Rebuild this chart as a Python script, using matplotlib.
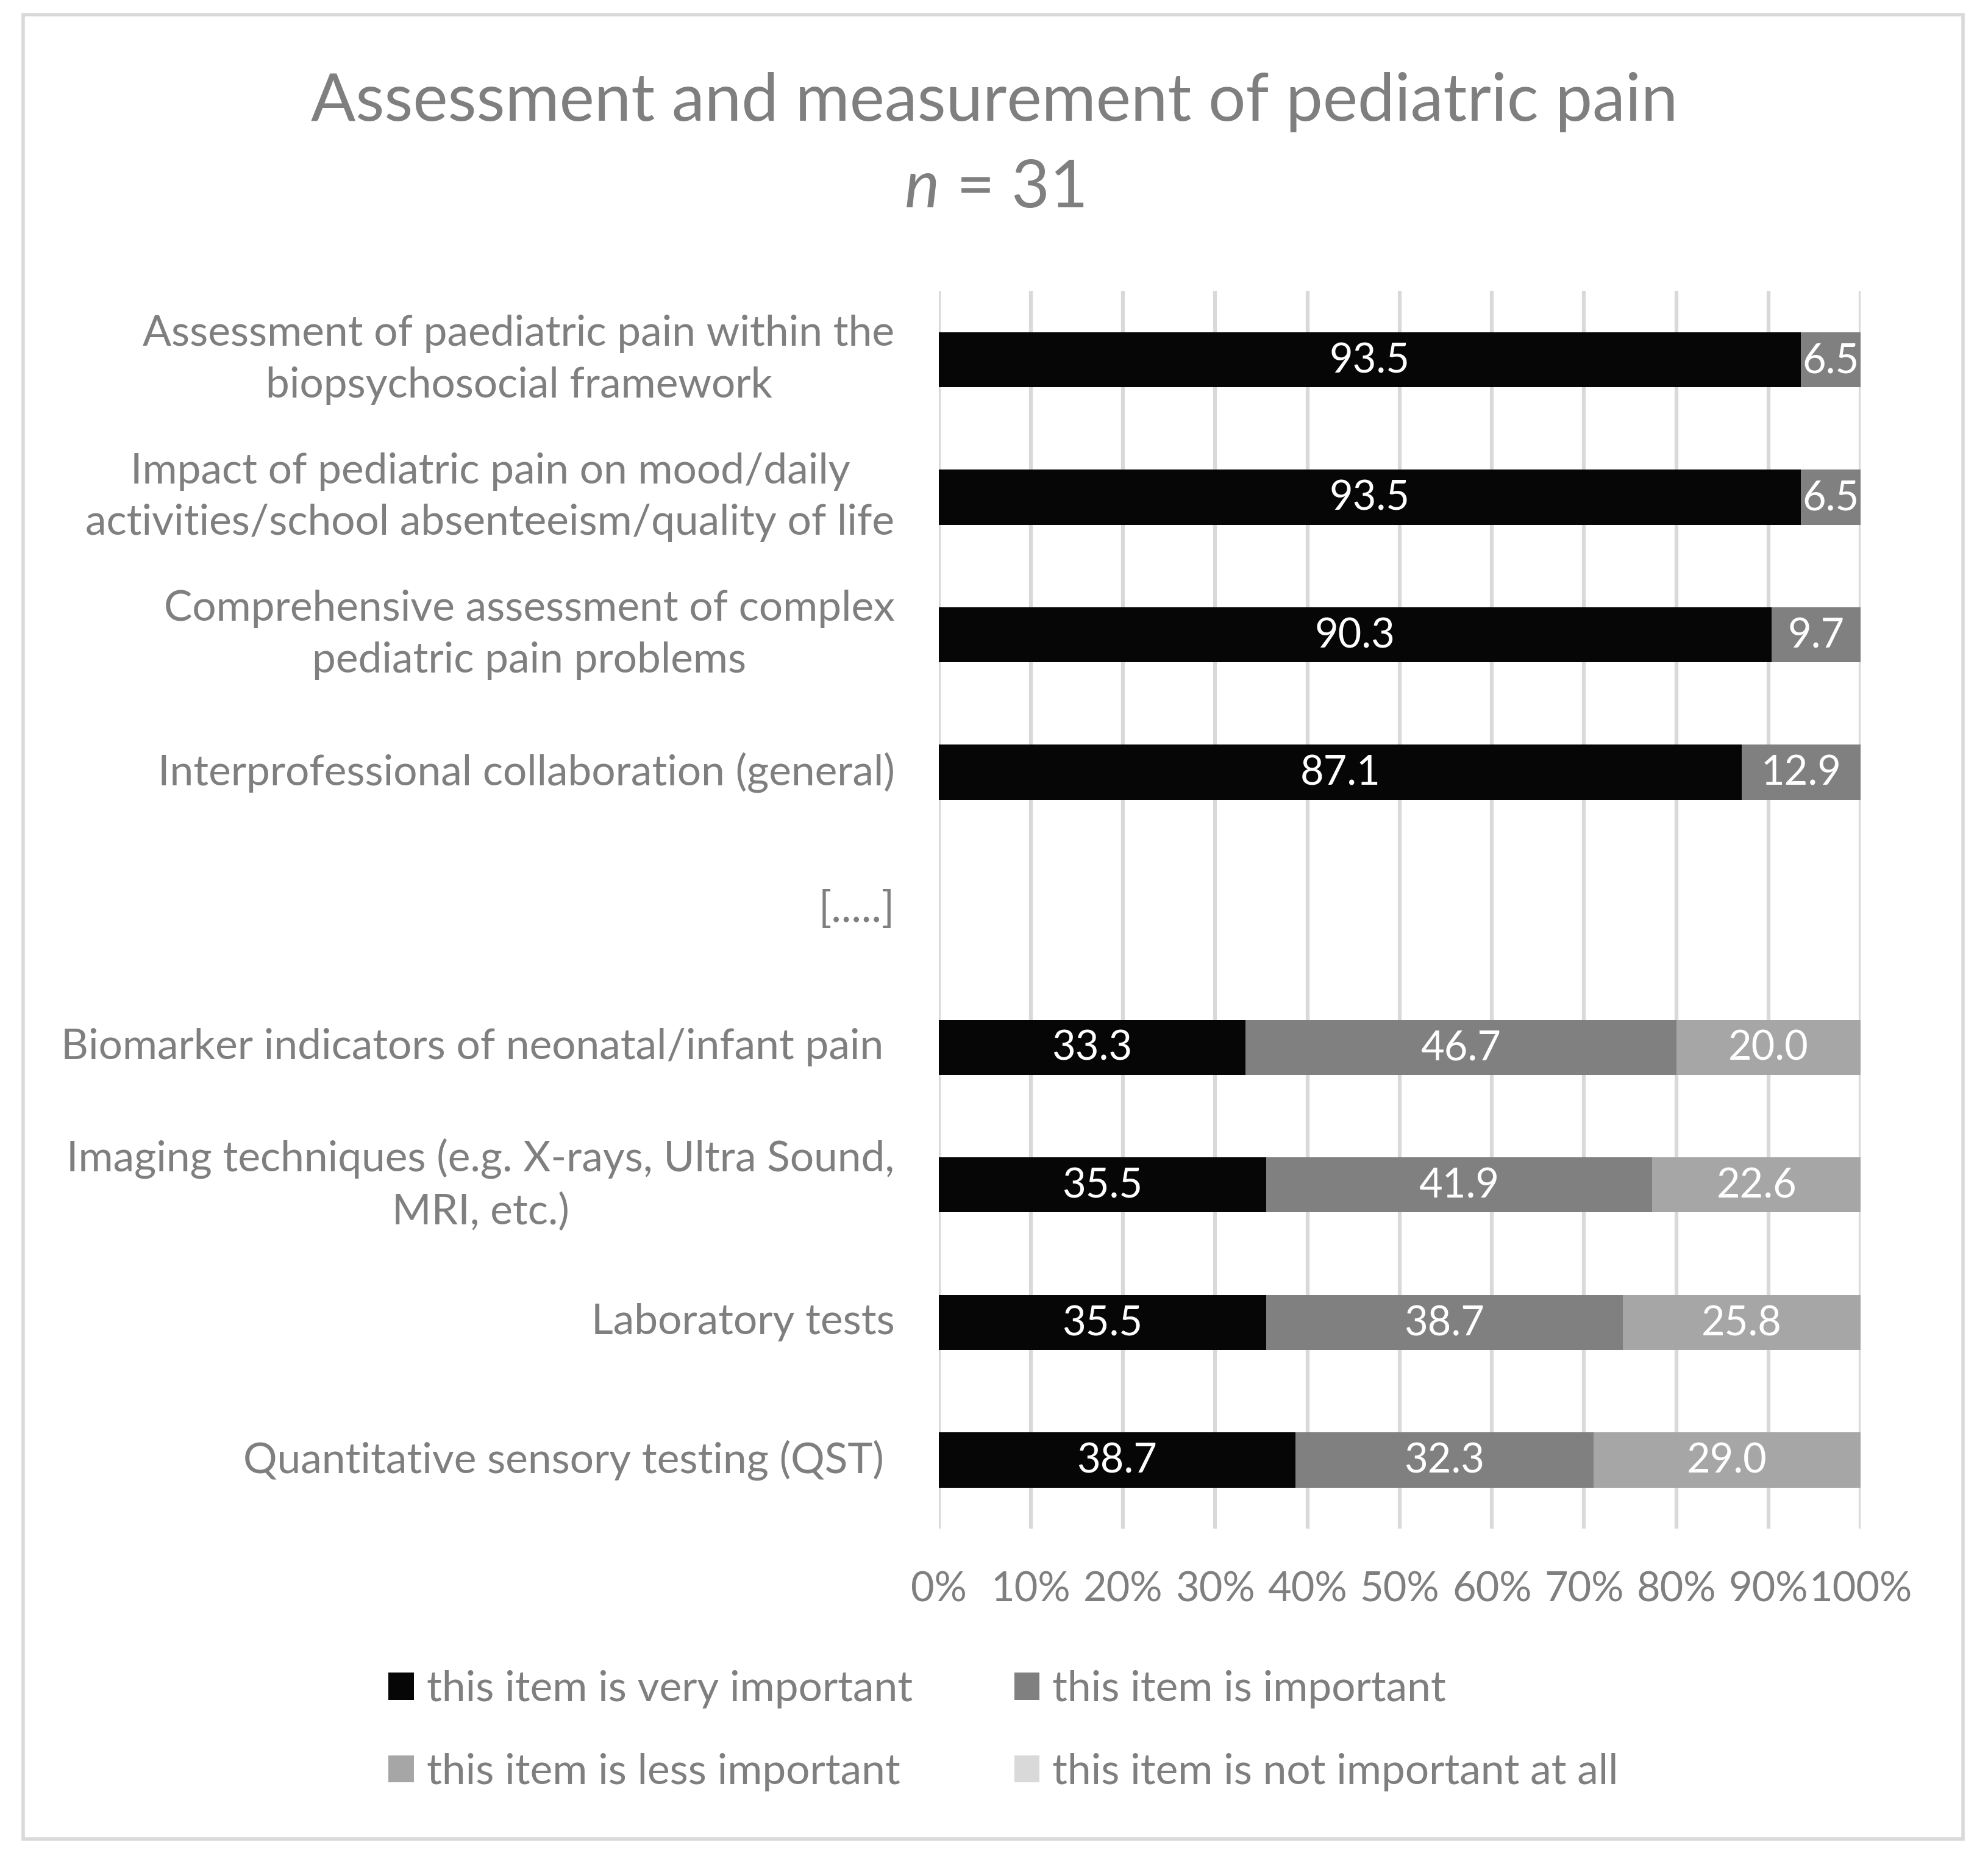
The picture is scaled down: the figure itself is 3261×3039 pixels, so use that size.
import numpy as np
import matplotlib.pyplot as plt
from matplotlib.patches import Rectangle

plt.rcParams['font.family'] = ['Lato', 'DejaVu Sans']
plt.rcParams['mathtext.fontset'] = 'custom'
plt.rcParams['mathtext.rm'] = 'Lato'
plt.rcParams['mathtext.it'] = 'Lato:italic'

categories = [
    "Assessment of paediatric pain within the\nbiopsychosocial framework",
    "Impact of pediatric pain on mood/daily\nactivities/school absenteeism/quality of life",
    "Comprehensive assessment of complex\npediatric pain problems",
    "Interprofessional collaboration (general)",
    "[.....]",
    "Biomarker indicators of neonatal/infant pain ",
    "Imaging techniques (e.g. X-rays, Ultra Sound,\nMRI, etc.)",
    "Laboratory tests",
    "Quantitative sensory testing (QST) ",
]
very_important = [93.5, 93.5, 90.3, 87.1, 0, 33.3, 35.5, 35.5, 38.7]
important = [6.5, 6.5, 9.7, 12.9, 0, 46.7, 41.9, 38.7, 32.3]
less_important = [0, 0, 0, 0, 0, 20.0, 22.6, 25.8, 29.0]
not_important = [0, 0, 0, 0, 0, 0, 0, 0, 0]

series = [
    ("this item is very important", very_important, "#060606"),
    ("this item is important", important, "#808080"),
    ("this item is less important", less_important, "#a6a6a6"),
    ("this item is not important at all", not_important, "#d9d9d9"),
]

text_gray = "#7f7f7f"
W, H = 3262, 3039
fig = plt.figure(figsize=(W / 100, H / 100), dpi=100)
ax = fig.add_axes([0.472, 0.175, 0.4637, 0.668])

y = np.arange(len(categories))
left = np.zeros(len(categories))
handles = {}
for name, vals, col in series:
    vals = np.array(vals, dtype=float)
    bars = ax.barh(y, vals, left=left, height=0.4, color=col, zorder=3)
    handles[name] = bars
    for i, v in enumerate(vals):
        if v > 0:
            ax.text(left[i] + v / 2, y[i] + 0.01, f"{v:.1f}", ha="center", va="center",
                    color="white", fontsize=48, zorder=4)
    left += vals

ax.set_xlim(0, 100)
ax.set_ylim(len(categories) - 0.5, -0.5)
ax.set_xticks(np.arange(0, 101, 10))
ax.set_xticklabels([f"{t}%" for t in range(0, 101, 10)])
ax.set_yticks(y)
ax.set_yticklabels(categories, multialignment="center", linespacing=1.42, va="center")
ax.tick_params(axis="y", length=0, labelsize=50, labelcolor=text_gray, pad=52)
ax.tick_params(axis="x", length=0, labelsize=48, labelcolor=text_gray, pad=50)
ax.grid(axis="x", color="#d9d9d9", linewidth=4.5, zorder=0)
for s in ax.spines.values():
    s.set_visible(False)

fig.text(0.5, 0.945, "Assessment and measurement of pediatric pain",
         ha="center", va="center", fontsize=78, color=text_gray)
fig.text(0.5, 0.898, r"$\mathit{n}$ = 31", ha="center", va="center",
         fontsize=78, color=text_gray)

order = ["this item is very important", "this item is less important",
         "this item is important", "this item is not important at all"]
fig.legend([handles[k] for k in order], order, loc="center",
           bbox_to_anchor=(0.5046, 0.066), ncol=2, frameon=False, fontsize=50,
           labelcolor=text_gray, handlelength=0.6, handleheight=0.6,
           handletextpad=0.3, columnspacing=2.4, labelspacing=1.05)

fig.patches.append(Rectangle((0.0115, 0.0075), 0.9755, 0.9845, transform=fig.transFigure,
                             fill=False, edgecolor="#d9d9d9", linewidth=4))

fig.savefig("out.png", dpi=100)
